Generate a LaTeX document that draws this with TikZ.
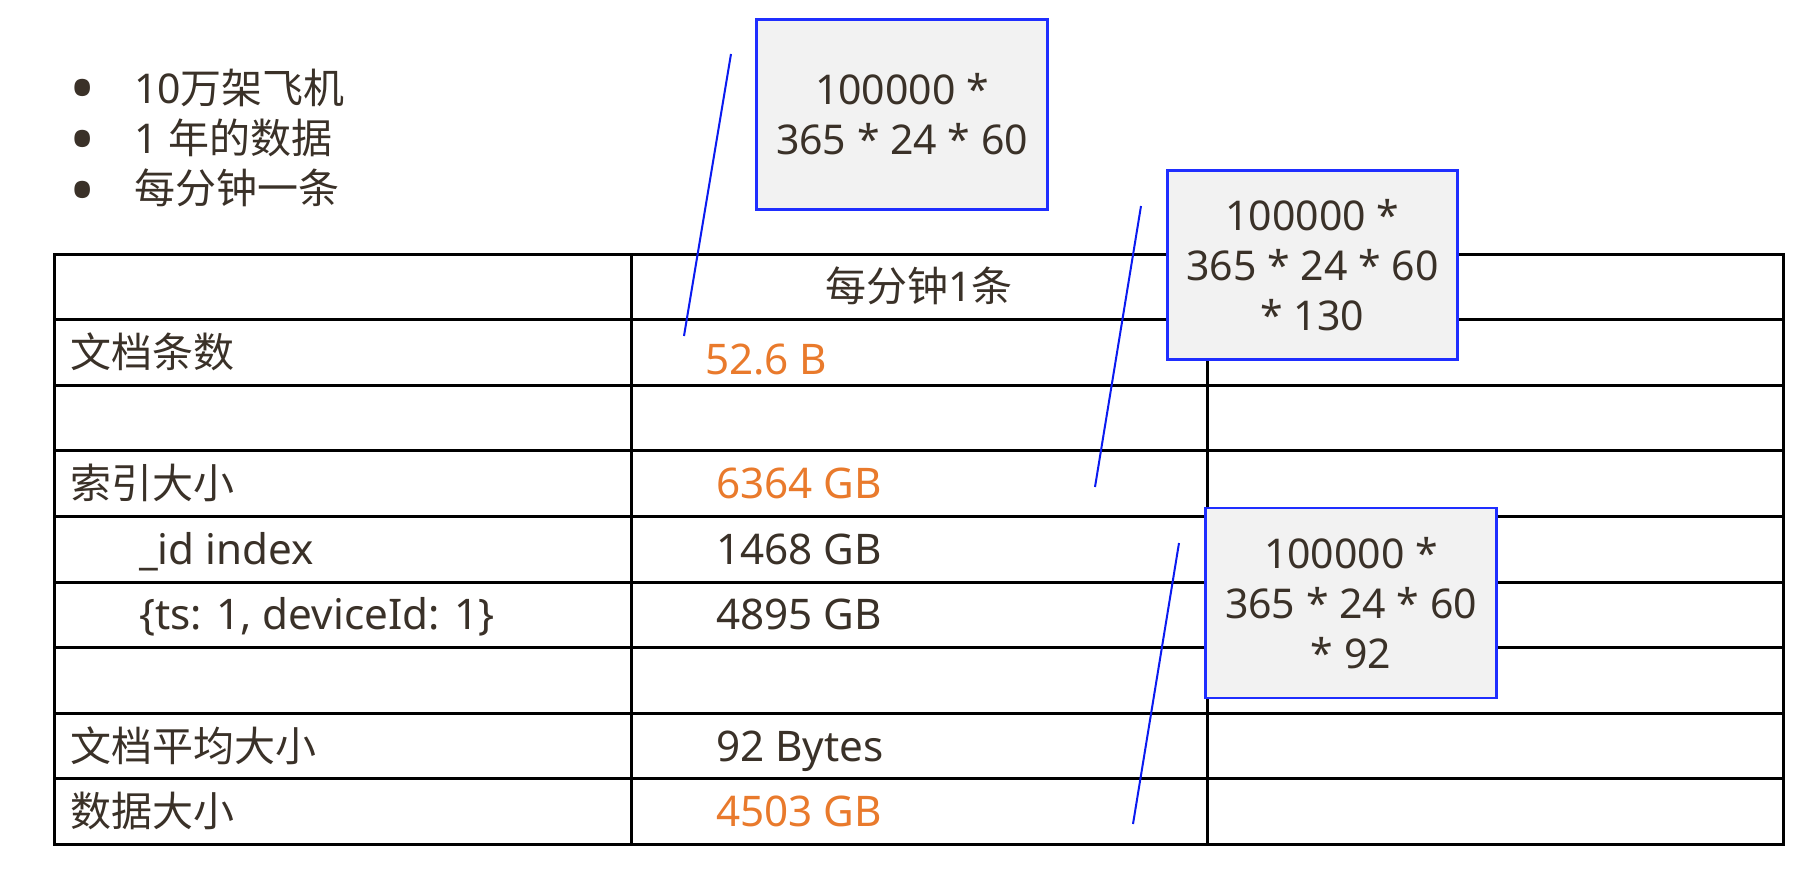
\documentclass[tikz,border=0pt]{standalone}
\usepackage{fontspec}
\setmainfont{Noto Sans}
\newfontfamily\cjk{Noto Sans CJK SC}
\definecolor{txt}{HTML}{3A3128}
\definecolor{org}{HTML}{E97A2C}
\definecolor{bbdr}{HTML}{1F2EFF}
\definecolor{bfill}{HTML}{F2F2F2}
\definecolor{lblue}{HTML}{0A1AF0}
\begin{document}
\begin{tikzpicture}[x=1pt,y=-1pt,
  every node/.style={inner sep=0pt, outer sep=0pt, text=txt, font=\fontsize{41}{50}\selectfont},
  lbl/.style={anchor=base west},
  lat/.style={font=\fontsize{42.2}{50}\selectfont},
  hot/.style={text=org},
  dot/.style={anchor=base, font=\fontsize{70}{70}\selectfont},
  calc/.style={draw=bbdr, line width=2.7pt, fill=bfill, align=center, minimum width=291pt, minimum height=190pt},
  gridline/.style={line width=3pt, draw=black},
  lead/.style={draw=lblue, line width=2pt}]
\useasboundingbox (0,0) rectangle (1802,870);
% table grid
\foreach \k in {1,...,8} \draw[gridline] (54,{254+65.6*\k}) -- (1783,{254+65.6*\k});
\draw[gridline] (54,254) rectangle (1783,844.4);
\draw[gridline] (631,254) -- (631,844.4);
\draw[gridline] (1207,254) -- (1207,844.4);
% bullets
\node[dot] (d1) at (83,113) {•};
\node[dot] (d2) at (83,164) {•};
\node[dot] (d3) at (83,215) {•};
\node[lbl] (t1) at (134,103) {10{\cjk 万架飞机}};
\node[lbl] (t2) at (134,153) {1 {\cjk 年的数据}};
\node[lbl] (t3) at (134,203) {\cjk 每分钟一条};
% header
\node[anchor=base] (h) at (919,301.8) {{\cjk 每分钟}1{\cjk 条}};
% column 1
\node[lbl] (r1) at (70,367.4) {\cjk 文档条数};
\node[lbl] (r3) at (70,498.6) {\cjk 索引大小};
\node[lbl,lat] (r4) at (139,564.2) {\_id index};
\node[lbl,lat] (r5) at (139,629.8) {\{ts: 1, deviceId: 1\}};
\node[lbl] (r7) at (70,761) {\cjk 文档平均大小};
\node[lbl] (r8) at (70,826.6) {\cjk 数据大小};
% column 2
\node[lbl,lat,hot] (v1) at (705,374) {52.6 B};
\node[lbl,lat,hot] (v3) at (716,498.6) {6364 GB};
\node[lbl,lat] (v4) at (716,564.2) {1468 GB};
\node[lbl,lat] (v5) at (716,629.8) {4895 GB};
\node[lbl,lat] (v7) at (716,761) {92 Bytes};
\node[lbl,lat,hot] (v8) at (716,826.6) {4503 GB};
% call-out boxes
\node[calc] (b1) at (902,114.5) {100000 *\\365 * 24 * 60};
\node[calc, minimum width=290pt, minimum height=189pt] (b2) at (1312.5,265) {100000 *\\365 * 24 * 60\\* 130};
\node[calc] (b3) at (1351,603) {100000 *\\365 * 24 * 60\\* 92};
% leader lines
\coordinate (l1a) at (731,54);   \coordinate (l1b) at (684,336);
\coordinate (l2a) at (1141,206); \coordinate (l2b) at (1095,487);
\coordinate (l3a) at (1179,543); \coordinate (l3b) at (1133,824);
\draw[lead] (l1a) -- (l1b);
\draw[lead] (l2a) -- (l2b);
\draw[lead] (l3a) -- (l3b);
\end{tikzpicture}
\end{document}
